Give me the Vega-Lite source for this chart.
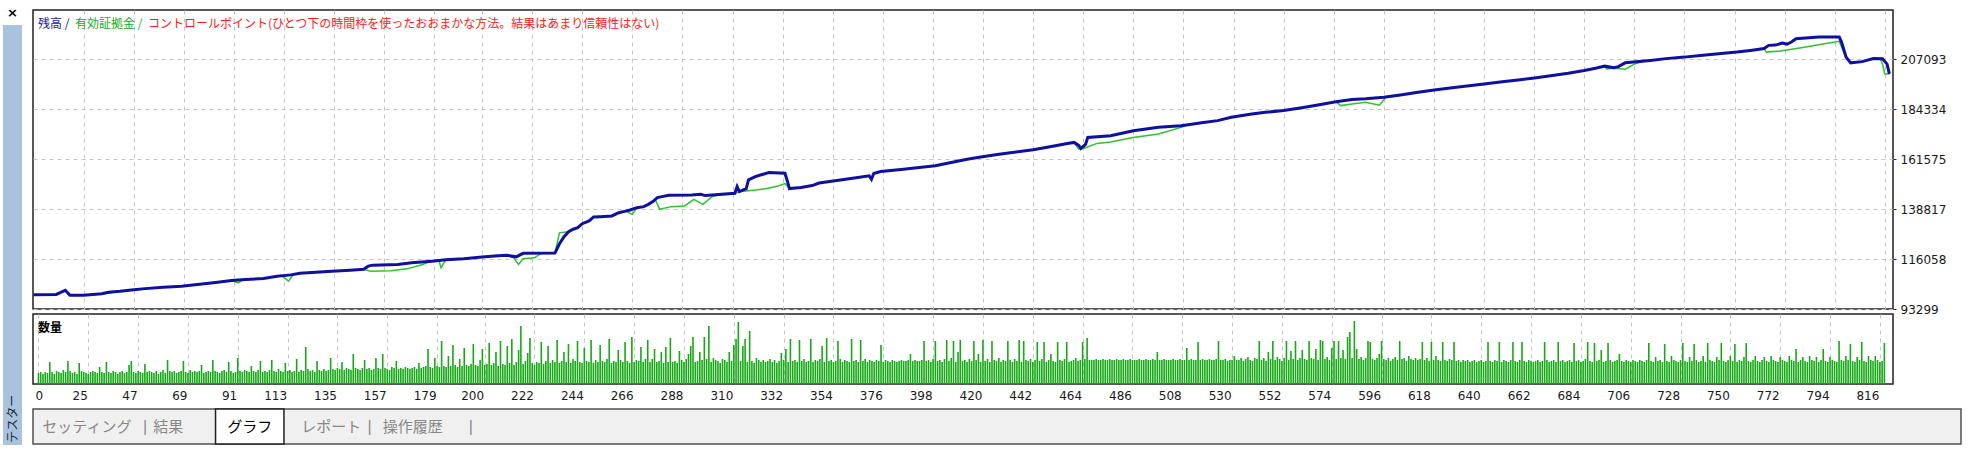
{
"$schema":"https://vega.github.io/schema/vega-lite/v6.json",
"background":"#ffffff",
"padding":{"left":3,"top":7,"right":0,"bottom":0},
"spacing":10,
"config":{
"view":{"stroke":"#202020","strokeWidth":1.5},
"axis":{"labelFont":"DejaVu Sans","labelFontSize":12,"labelColor":"#1a1a1a","gridColor":"#c4c4c4","gridDash":[4,4],"gridWidth":1,"title":null}
},
"datasets":{
"bal":[{"t":3,"v":99841},{"t":13,"v":99932},{"t":15,"v":100847},{"t":17,"v":101854},{"t":19,"v":99566},{"t":25,"v":99566},{"t":33,"v":100298},{"t":36,"v":100939},{"t":41,"v":101396},{"t":46,"v":101991},{"t":52,"v":102585},{"t":60,"v":103226},{"t":68,"v":103683},{"t":75,"v":104415},{"t":83,"v":105330},{"t":90,"v":106245},{"t":96,"v":106703},{"t":104,"v":107160},{"t":110,"v":108258},{"t":116,"v":108853},{"t":120,"v":109630},{"t":127,"v":110088},{"t":134,"v":110545},{"t":142,"v":111003},{"t":148,"v":111460},{"t":150,"v":112833},{"t":152,"v":113290},{"t":163,"v":113564},{"t":169,"v":114342},{"t":178,"v":115120},{"t":184,"v":115715},{"t":192,"v":116172},{"t":200,"v":116950},{"t":207,"v":117544},{"t":211,"v":117773},{"t":215,"v":117087},{"t":218,"v":118688},{"t":232,"v":118779},{"t":234,"v":123034},{"t":236,"v":126236},{"t":238,"v":128523},{"t":240,"v":129667},{"t":242,"v":130353},{"t":244,"v":132183},{"t":247,"v":133418},{"t":249,"v":135248},{"t":252,"v":135385},{"t":257,"v":135706},{"t":260,"v":137215},{"t":263,"v":137901},{"t":265,"v":138450},{"t":268,"v":139502},{"t":271,"v":139960},{"t":273,"v":141012},{"t":275,"v":142247},{"t":277,"v":144077},{"t":279,"v":144535},{"t":282,"v":145129},{"t":292,"v":145312},{"t":296,"v":145587},{"t":298,"v":144992},{"t":301,"v":145312},{"t":311,"v":146044},{"t":312,"v":149109},{"t":313,"v":146822},{"t":316,"v":148194},{"t":317,"v":152174},{"t":320,"v":153684},{"t":323,"v":154599},{"t":326,"v":155514},{"t":333,"v":155193},{"t":334,"v":151854},{"t":335,"v":148194},{"t":340,"v":148652},{"t":345,"v":149567},{"t":348,"v":150710},{"t":355,"v":151717},{"t":362,"v":152769},{"t":370,"v":154004},{"t":371,"v":152449},{"t":372,"v":155056},{"t":375,"v":155971},{"t":384,"v":156886},{"t":399,"v":158579},{"t":406,"v":160088},{"t":413,"v":161598},{"t":419,"v":162604},{"t":427,"v":163885},{"t":442,"v":165898},{"t":450,"v":167408},{"t":457,"v":168780},{"t":460,"v":169237},{"t":462,"v":167865},{"t":463,"v":166493},{"t":465,"v":168322},{"t":466,"v":171525},{"t":476,"v":172302},{"t":486,"v":174590},{"t":497,"v":176099},{"t":507,"v":176877},{"t":516,"v":178158},{"t":523,"v":179164},{"t":529,"v":180674},{"t":538,"v":182184},{"t":544,"v":182961},{"t":552,"v":183739},{"t":560,"v":185020},{"t":567,"v":186300},{"t":575,"v":187765},{"t":582,"v":188771},{"t":588,"v":189137},{"t":596,"v":189823},{"t":604,"v":190967},{"t":611,"v":192110},{"t":619,"v":193254},{"t":626,"v":194169},{"t":640,"v":195907},{"t":648,"v":196914},{"t":655,"v":197737},{"t":663,"v":198744},{"t":670,"v":199750},{"t":677,"v":200802},{"t":684,"v":202037},{"t":689,"v":203089},{"t":693,"v":204004},{"t":697,"v":203318},{"t":699,"v":203776},{"t":702,"v":205514},{"t":713,"v":206612},{"t":720,"v":207435},{"t":728,"v":208121},{"t":735,"v":208899},{"t":743,"v":209631},{"t":751,"v":210409},{"t":757,"v":211187},{"t":763,"v":212010},{"t":765,"v":213474},{"t":768,"v":213611},{"t":771,"v":214526},{"t":773,"v":214068},{"t":775,"v":214983},{"t":777,"v":216493},{"t":787,"v":217271},{"t":796,"v":217271},{"t":797,"v":214983},{"t":799,"v":208121},{"t":801,"v":205514},{"t":806,"v":206063},{"t":811,"v":207435},{"t":815,"v":207344},{"t":817,"v":204919},{"t":818,"v":200482}],
"eq":[{"t":3,"v":99841},{"t":13,"v":99932},{"t":15,"v":100847},{"t":17,"v":101854},{"t":19,"v":99566},{"t":25,"v":99566},{"t":33,"v":100298},{"t":36,"v":100500},{"t":38,"v":100939},{"t":41,"v":101396},{"t":46,"v":101991},{"t":52,"v":102585},{"t":60,"v":103226},{"t":68,"v":103683},{"t":75,"v":104415},{"t":83,"v":105330},{"t":90,"v":106245},{"t":93,"v":105193},{"t":95,"v":106600},{"t":104,"v":107160},{"t":110,"v":108258},{"t":112,"v":108500},{"t":115,"v":105971},{"t":117,"v":108900},{"t":120,"v":109630},{"t":127,"v":110088},{"t":134,"v":110545},{"t":142,"v":111003},{"t":148,"v":111460},{"t":151,"v":110545},{"t":160,"v":110682},{"t":167,"v":111597},{"t":174,"v":113564},{"t":177,"v":114950},{"t":178,"v":115120},{"t":181,"v":115600},{"t":182,"v":112055},{"t":184,"v":115715},{"t":192,"v":116172},{"t":200,"v":116950},{"t":207,"v":117544},{"t":211,"v":117773},{"t":214,"v":116500},{"t":216,"v":113564},{"t":218,"v":116200},{"t":223,"v":116629},{"t":226,"v":118700},{"t":232,"v":118779},{"t":234,"v":128000},{"t":236,"v":128300},{"t":238,"v":128523},{"t":240,"v":129667},{"t":242,"v":130353},{"t":244,"v":132183},{"t":247,"v":133418},{"t":249,"v":135248},{"t":252,"v":135385},{"t":257,"v":135706},{"t":260,"v":137215},{"t":263,"v":137901},{"t":266,"v":136437},{"t":268,"v":139502},{"t":271,"v":139960},{"t":273,"v":141012},{"t":275,"v":142247},{"t":276,"v":143300},{"t":278,"v":138725},{"t":283,"v":139960},{"t":289,"v":140280},{"t":293,"v":143299},{"t":297,"v":141012},{"t":301,"v":144500},{"t":304,"v":145400},{"t":311,"v":146044},{"t":313,"v":146822},{"t":316,"v":147142},{"t":320,"v":147508},{"t":325,"v":148194},{"t":330,"v":149338},{"t":333,"v":150482},{"t":335,"v":148194},{"t":340,"v":148652},{"t":345,"v":149567},{"t":348,"v":150710},{"t":355,"v":151717},{"t":362,"v":152769},{"t":370,"v":154004},{"t":371,"v":152449},{"t":372,"v":155056},{"t":375,"v":155971},{"t":384,"v":156886},{"t":399,"v":158579},{"t":406,"v":160088},{"t":413,"v":161598},{"t":419,"v":162604},{"t":427,"v":163885},{"t":442,"v":165898},{"t":450,"v":167408},{"t":457,"v":168780},{"t":460,"v":169237},{"t":462,"v":166173},{"t":465,"v":166800},{"t":470,"v":168780},{"t":476,"v":169466},{"t":486,"v":171525},{"t":497,"v":173033},{"t":507,"v":176099},{"t":510,"v":177300},{"t":516,"v":178158},{"t":523,"v":179164},{"t":529,"v":180674},{"t":538,"v":182184},{"t":544,"v":182961},{"t":552,"v":183739},{"t":560,"v":185020},{"t":567,"v":186300},{"t":575,"v":187765},{"t":577,"v":186026},{"t":582,"v":186758},{"t":588,"v":187536},{"t":594,"v":186163},{"t":597,"v":189900},{"t":604,"v":190967},{"t":611,"v":192110},{"t":619,"v":193254},{"t":626,"v":194169},{"t":640,"v":195907},{"t":648,"v":196914},{"t":655,"v":197737},{"t":663,"v":198744},{"t":670,"v":199750},{"t":677,"v":200802},{"t":684,"v":202037},{"t":689,"v":203089},{"t":693,"v":203600},{"t":694,"v":202770},{"t":697,"v":203000},{"t":702,"v":202632},{"t":706,"v":204919},{"t":710,"v":206200},{"t":713,"v":206612},{"t":720,"v":207435},{"t":728,"v":208121},{"t":735,"v":208899},{"t":743,"v":209631},{"t":751,"v":210409},{"t":757,"v":211187},{"t":763,"v":212010},{"t":764,"v":210409},{"t":770,"v":210866},{"t":780,"v":212467},{"t":790,"v":214297},{"t":796,"v":215304},{"t":797,"v":212696},{"t":799,"v":207664},{"t":801,"v":205834},{"t":806,"v":206063},{"t":811,"v":207435},{"t":814,"v":207344},{"t":815,"v":204919},{"t":816,"v":200482},{"t":818,"v":200482}],
"vol":[{"t":3,"v":1.1},{"t":4,"v":1.2},{"t":5,"v":1},{"t":6,"v":1.2},{"t":7,"v":1.1},{"t":8,"v":2.2},{"t":9,"v":1.2},{"t":10,"v":1},{"t":11,"v":1.3},{"t":12,"v":1.2},
{"t":13,"v":1.1},{"t":14,"v":1.4},{"t":15,"v":1.2},{"t":16,"v":2.3},{"t":17,"v":1.3},{"t":18,"v":1.1},{"t":19,"v":1.2},{"t":20,"v":1},{"t":21,"v":2.1},{"t":22,"v":1.3},
{"t":23,"v":1.2},{"t":24,"v":1.1},{"t":25,"v":1},{"t":26,"v":1.2},{"t":27,"v":1.3},{"t":28,"v":1.2},{"t":29,"v":1.1},{"t":30,"v":1.7},{"t":31,"v":1.2},{"t":32,"v":1.1},
{"t":33,"v":2.2},{"t":34,"v":1.2},{"t":35,"v":1.1},{"t":36,"v":1.3},{"t":37,"v":1.2},{"t":38,"v":1},{"t":39,"v":1.2},{"t":40,"v":1.3},{"t":41,"v":1.1},{"t":42,"v":1.2},
{"t":43,"v":1.9},{"t":44,"v":2.3},{"t":45,"v":1.2},{"t":46,"v":1.1},{"t":47,"v":1.3},{"t":48,"v":1.2},{"t":49,"v":1.1},{"t":50,"v":2},{"t":51,"v":1.2},{"t":52,"v":1.3},
{"t":53,"v":1.2},{"t":54,"v":1.1},{"t":55,"v":1.3},{"t":56,"v":1},{"t":57,"v":1.2},{"t":58,"v":1.4},{"t":59,"v":1.1},{"t":60,"v":2.4},{"t":61,"v":1.3},{"t":62,"v":1.2},
{"t":63,"v":1.3},{"t":64,"v":1.1},{"t":65,"v":1.2},{"t":66,"v":1.3},{"t":67,"v":2.3},{"t":68,"v":1.2},{"t":69,"v":1.1},{"t":70,"v":1.4},{"t":71,"v":1.2},{"t":72,"v":1.3},
{"t":73,"v":1.2},{"t":74,"v":1.3},{"t":75,"v":1.9},{"t":76,"v":1.1},{"t":77,"v":1.2},{"t":78,"v":1.3},{"t":79,"v":1.2},{"t":80,"v":2.4},{"t":81,"v":1.3},{"t":82,"v":1.2},
{"t":83,"v":1.1},{"t":84,"v":1.3},{"t":85,"v":1.4},{"t":86,"v":1.2},{"t":87,"v":2.2},{"t":88,"v":1.3},{"t":89,"v":1.1},{"t":90,"v":1.2},{"t":91,"v":2.6},{"t":92,"v":1.3},
{"t":93,"v":1.2},{"t":94,"v":1.4},{"t":95,"v":1.3},{"t":96,"v":1.2},{"t":97,"v":1.8},{"t":98,"v":1.3},{"t":99,"v":1.2},{"t":100,"v":1.4},{"t":101,"v":2.3},{"t":102,"v":1.2},
{"t":103,"v":1.3},{"t":104,"v":1.2},{"t":105,"v":1.4},{"t":106,"v":2.4},{"t":107,"v":1.3},{"t":108,"v":1.2},{"t":109,"v":1.5},{"t":110,"v":1.3},{"t":111,"v":1.2},{"t":112,"v":2.1},
{"t":113,"v":1.3},{"t":114,"v":1.4},{"t":115,"v":1.2},{"t":116,"v":1.3},{"t":117,"v":2.5},{"t":118,"v":1.2},{"t":119,"v":1.4},{"t":120,"v":1.3},{"t":121,"v":3.7},{"t":122,"v":1.5},
{"t":123,"v":1.3},{"t":124,"v":1.4},{"t":125,"v":1.2},{"t":126,"v":2.3},{"t":127,"v":1.4},{"t":128,"v":1.3},{"t":129,"v":1.5},{"t":130,"v":1.3},{"t":131,"v":1.4},{"t":132,"v":2.6},
{"t":133,"v":1.5},{"t":134,"v":1.4},{"t":135,"v":1.6},{"t":136,"v":1.5},{"t":137,"v":2.2},{"t":138,"v":1.4},{"t":139,"v":1.6},{"t":140,"v":1.5},{"t":141,"v":1.4},{"t":142,"v":3},
{"t":143,"v":1.6},{"t":144,"v":1.5},{"t":145,"v":1.4},{"t":146,"v":1.6},{"t":147,"v":2.4},{"t":148,"v":1.5},{"t":149,"v":1.6},{"t":150,"v":1.4},{"t":151,"v":1.5},{"t":152,"v":2.6},
{"t":153,"v":1.6},{"t":154,"v":1.5},{"t":155,"v":3},{"t":156,"v":1.6},{"t":157,"v":1.5},{"t":158,"v":1.4},{"t":159,"v":1.7},{"t":160,"v":1.6},{"t":161,"v":2.3},{"t":162,"v":1.5},
{"t":163,"v":1.6},{"t":164,"v":1.5},{"t":165,"v":1.7},{"t":166,"v":1.6},{"t":167,"v":1.5},{"t":168,"v":1.6},{"t":169,"v":1.7},{"t":170,"v":1.5},{"t":171,"v":2.1},{"t":172,"v":1.6},
{"t":173,"v":1.7},{"t":174,"v":1.8},{"t":175,"v":3.5},{"t":176,"v":1.7},{"t":177,"v":1.6},{"t":178,"v":2.6},{"t":179,"v":1.8},{"t":180,"v":1.7},{"t":181,"v":4.3},{"t":182,"v":1.8},
{"t":183,"v":1.7},{"t":184,"v":2.8},{"t":185,"v":1.8},{"t":186,"v":3.9},{"t":187,"v":1.9},{"t":188,"v":1.7},{"t":189,"v":2.5},{"t":190,"v":1.8},{"t":191,"v":3.6},{"t":192,"v":1.9},
{"t":193,"v":1.8},{"t":194,"v":2},{"t":195,"v":4},{"t":196,"v":1.9},{"t":197,"v":1.8},{"t":198,"v":2.4},{"t":199,"v":3.5},{"t":200,"v":1.9},{"t":201,"v":2},{"t":202,"v":4.1},
{"t":203,"v":1.9},{"t":204,"v":2.1},{"t":205,"v":3.2},{"t":206,"v":1.8},{"t":207,"v":4.3},{"t":208,"v":2},{"t":209,"v":1.9},{"t":210,"v":3.8},{"t":211,"v":2.1},{"t":212,"v":4.5},
{"t":213,"v":1.9},{"t":214,"v":2.2},{"t":215,"v":3.4},{"t":216,"v":5.8},{"t":217,"v":2},{"t":218,"v":2.3},{"t":219,"v":3.1},{"t":220,"v":4.6},{"t":221,"v":2.1},{"t":222,"v":1.9},
{"t":223,"v":2.2},{"t":224,"v":2.1},{"t":225,"v":4.2},{"t":226,"v":2},{"t":227,"v":2.3},{"t":228,"v":3.8},{"t":229,"v":2.1},{"t":230,"v":2.4},{"t":231,"v":2.2},{"t":232,"v":4.4},
{"t":233,"v":2.1},{"t":234,"v":2.3},{"t":235,"v":3.2},{"t":236,"v":2.2},{"t":237,"v":4},{"t":238,"v":2.1},{"t":239,"v":2.5},{"t":240,"v":2.3},{"t":241,"v":4.3},{"t":242,"v":2.2},
{"t":243,"v":2.1},{"t":244,"v":3.6},{"t":245,"v":2.3},{"t":246,"v":2.2},{"t":247,"v":4.4},{"t":248,"v":2.1},{"t":249,"v":2.4},{"t":250,"v":2.2},{"t":251,"v":3.9},{"t":252,"v":2.3},
{"t":253,"v":2.2},{"t":254,"v":2.5},{"t":255,"v":4.5},{"t":256,"v":2.1},{"t":257,"v":2.3},{"t":258,"v":2.2},{"t":259,"v":3.4},{"t":260,"v":2.4},{"t":261,"v":2.2},{"t":262,"v":4.2},
{"t":263,"v":2.3},{"t":264,"v":2.1},{"t":265,"v":4.7},{"t":266,"v":2.2},{"t":267,"v":2.4},{"t":268,"v":2.3},{"t":269,"v":3.7},{"t":270,"v":2.2},{"t":271,"v":2.5},{"t":272,"v":4.4},
{"t":273,"v":2.2},{"t":274,"v":2.5},{"t":275,"v":3.5},{"t":276,"v":2.2},{"t":277,"v":2.3},{"t":278,"v":3.2},{"t":279,"v":2.1},{"t":280,"v":3.7},{"t":281,"v":2.2},{"t":282,"v":4.6},
{"t":283,"v":2.2},{"t":284,"v":2.3},{"t":285,"v":2.1},{"t":286,"v":3.3},{"t":287,"v":2.4},{"t":288,"v":2.2},{"t":289,"v":2.5},{"t":290,"v":3},{"t":291,"v":3.8},{"t":292,"v":4.7},
{"t":293,"v":2.2},{"t":294,"v":2.3},{"t":295,"v":3.2},{"t":296,"v":2.4},{"t":297,"v":4.7},{"t":298,"v":2.5},{"t":299,"v":5.8},{"t":300,"v":2.2},{"t":301,"v":2.6},{"t":302,"v":2.4},
{"t":303,"v":2.3},{"t":304,"v":2.1},{"t":305,"v":2.5},{"t":306,"v":2.4},{"t":307,"v":2.2},{"t":308,"v":3.2},{"t":309,"v":2.3},{"t":310,"v":3.9},{"t":311,"v":4.5},{"t":312,"v":6.2},
{"t":313,"v":2.3},{"t":314,"v":3.8},{"t":315,"v":4.5},{"t":316,"v":2.2},{"t":317,"v":5.3},{"t":318,"v":2.3},{"t":319,"v":2.1},{"t":320,"v":2.6},{"t":321,"v":2.4},{"t":322,"v":2.2},
{"t":323,"v":2.4},{"t":324,"v":2.2},{"t":325,"v":2.3},{"t":326,"v":2.5},{"t":327,"v":2.2},{"t":328,"v":2.4},{"t":329,"v":2.1},{"t":330,"v":2.3},{"t":331,"v":3.1},{"t":332,"v":2.4},
{"t":333,"v":3.5},{"t":334,"v":2.2},{"t":335,"v":4.5},{"t":336,"v":2.3},{"t":337,"v":2.4},{"t":338,"v":2.2},{"t":339,"v":4.4},{"t":340,"v":2.3},{"t":341,"v":2.5},{"t":342,"v":2.2},
{"t":343,"v":2.3},{"t":344,"v":4.5},{"t":345,"v":2.2},{"t":346,"v":2.4},{"t":347,"v":2.3},{"t":348,"v":2.5},{"t":349,"v":3.8},{"t":350,"v":2.2},{"t":351,"v":4.6},{"t":352,"v":2.3},
{"t":353,"v":2.4},{"t":354,"v":2.2},{"t":355,"v":2.3},{"t":356,"v":4.3},{"t":357,"v":2.5},{"t":358,"v":2.2},{"t":359,"v":2.4},{"t":360,"v":2.3},{"t":361,"v":2.2},{"t":362,"v":4.5},
{"t":363,"v":2.3},{"t":364,"v":2.4},{"t":365,"v":2.2},{"t":366,"v":4.4},{"t":367,"v":2.3},{"t":368,"v":2.5},{"t":369,"v":2.2},{"t":370,"v":2.4},{"t":371,"v":2.3},{"t":372,"v":2.2},
{"t":373,"v":2.4},{"t":374,"v":2.3},{"t":375,"v":3.9},{"t":376,"v":2.2},{"t":377,"v":2.4},{"t":378,"v":2.3},{"t":379,"v":2.2},{"t":380,"v":2.4},{"t":381,"v":2.3},{"t":382,"v":2.2},
{"t":383,"v":2.3},{"t":384,"v":2.4},{"t":385,"v":2.3},{"t":386,"v":2.3},{"t":387,"v":2.4},{"t":388,"v":3},{"t":389,"v":2.3},{"t":390,"v":2.4},{"t":391,"v":2.3},{"t":392,"v":2.3},
{"t":393,"v":2.4},{"t":394,"v":4.3},{"t":395,"v":2.3},{"t":396,"v":2.4},{"t":397,"v":2.2},{"t":398,"v":2.5},{"t":399,"v":4.3},{"t":400,"v":2.3},{"t":401,"v":2.4},{"t":402,"v":2.2},
{"t":403,"v":2.5},{"t":404,"v":4.4},{"t":405,"v":2.3},{"t":406,"v":2.6},{"t":407,"v":4.3},{"t":408,"v":2.2},{"t":409,"v":3.2},{"t":410,"v":4.4},{"t":411,"v":2.3},{"t":412,"v":2.4},
{"t":413,"v":2.2},{"t":414,"v":2.5},{"t":415,"v":2.3},{"t":416,"v":4.3},{"t":417,"v":2.4},{"t":418,"v":3},{"t":419,"v":2.2},{"t":420,"v":4.4},{"t":421,"v":2.3},{"t":422,"v":2.5},
{"t":423,"v":2.2},{"t":424,"v":4.3},{"t":425,"v":2.4},{"t":426,"v":2.3},{"t":427,"v":2.6},{"t":428,"v":2.2},{"t":429,"v":2.4},{"t":430,"v":2.3},{"t":431,"v":4.3},{"t":432,"v":2.4},
{"t":433,"v":2.2},{"t":434,"v":2.5},{"t":435,"v":2.3},{"t":436,"v":4.4},{"t":437,"v":2.2},{"t":438,"v":4.3},{"t":439,"v":2.4},{"t":440,"v":2.3},{"t":441,"v":2.5},{"t":442,"v":2.2},
{"t":443,"v":2.4},{"t":444,"v":4.2},{"t":445,"v":2.3},{"t":446,"v":2.5},{"t":447,"v":4.2},{"t":448,"v":2.2},{"t":449,"v":2.4},{"t":450,"v":3},{"t":451,"v":2.3},{"t":452,"v":2.2},
{"t":453,"v":4.2},{"t":454,"v":2.4},{"t":455,"v":2.3},{"t":456,"v":2.5},{"t":457,"v":4.2},{"t":458,"v":2.2},{"t":459,"v":2.3},{"t":460,"v":2.4},{"t":461,"v":2.6},{"t":462,"v":2.3},
{"t":463,"v":2.4},{"t":464,"v":4.2},{"t":465,"v":2.5},{"t":466,"v":4.6},{"t":467,"v":2.4},{"t":468,"v":2.4},{"t":469,"v":2.4},{"t":470,"v":2.5},{"t":471,"v":2.4},{"t":472,"v":2.4},
{"t":473,"v":2.5},{"t":474,"v":2.4},{"t":475,"v":2.4},{"t":476,"v":2.5},{"t":477,"v":2.4},{"t":478,"v":2.4},{"t":479,"v":2.5},{"t":480,"v":2.4},{"t":481,"v":2.4},{"t":482,"v":2.5},
{"t":483,"v":2.4},{"t":484,"v":2.4},{"t":485,"v":2.5},{"t":486,"v":2.4},{"t":487,"v":2.4},{"t":488,"v":2.4},{"t":489,"v":2.5},{"t":490,"v":2.4},{"t":491,"v":2.4},{"t":492,"v":2.5},
{"t":493,"v":2.4},{"t":494,"v":2.4},{"t":495,"v":2.5},{"t":496,"v":2.4},{"t":497,"v":3.2},{"t":498,"v":2.4},{"t":499,"v":2.4},{"t":500,"v":2.5},{"t":501,"v":2.4},{"t":502,"v":2.4},
{"t":503,"v":2.4},{"t":504,"v":2.5},{"t":505,"v":2.4},{"t":506,"v":2.4},{"t":507,"v":2.5},{"t":508,"v":2.4},{"t":509,"v":2.4},{"t":510,"v":3.6},{"t":511,"v":2.4},{"t":512,"v":2.5},
{"t":513,"v":2.4},{"t":514,"v":2.4},{"t":515,"v":4.2},{"t":516,"v":2.4},{"t":517,"v":2.5},{"t":518,"v":2.4},{"t":519,"v":2.4},{"t":520,"v":2.5},{"t":521,"v":2.4},{"t":522,"v":2.4},
{"t":523,"v":2.5},{"t":524,"v":4.3},{"t":525,"v":2.4},{"t":526,"v":2.4},{"t":527,"v":2.5},{"t":528,"v":2.3},{"t":529,"v":2.4},{"t":530,"v":2.4},{"t":531,"v":2.8},{"t":532,"v":2.4},
{"t":533,"v":2.4},{"t":534,"v":2.6},{"t":535,"v":2.3},{"t":536,"v":2.5},{"t":537,"v":2.7},{"t":538,"v":2.4},{"t":539,"v":2.3},{"t":540,"v":2.6},{"t":541,"v":2.5},{"t":542,"v":4.3},
{"t":543,"v":2.4},{"t":544,"v":2.6},{"t":545,"v":2.3},{"t":546,"v":3.2},{"t":547,"v":2.5},{"t":548,"v":4.3},{"t":549,"v":2.4},{"t":550,"v":2.7},{"t":551,"v":2.5},{"t":552,"v":2.3},
{"t":553,"v":2.6},{"t":554,"v":4.3},{"t":555,"v":2.4},{"t":556,"v":3.3},{"t":557,"v":2.5},{"t":558,"v":4.3},{"t":559,"v":2.4},{"t":560,"v":2.6},{"t":561,"v":3.4},{"t":562,"v":2.5},
{"t":563,"v":2.4},{"t":564,"v":4.3},{"t":565,"v":2.6},{"t":566,"v":2.5},{"t":567,"v":3.5},{"t":568,"v":2.4},{"t":569,"v":4.4},{"t":570,"v":4.3},{"t":571,"v":2.5},{"t":572,"v":2.7},
{"t":573,"v":2.4},{"t":574,"v":3.6},{"t":575,"v":4.3},{"t":576,"v":2.5},{"t":577,"v":4.3},{"t":578,"v":2.6},{"t":579,"v":3.4},{"t":580,"v":2.5},{"t":581,"v":4.7},{"t":582,"v":5.2},
{"t":583,"v":2.6},{"t":584,"v":6.3},{"t":585,"v":3.5},{"t":586,"v":2.5},{"t":587,"v":2.7},{"t":588,"v":2.4},{"t":589,"v":2.6},{"t":590,"v":4.3},{"t":591,"v":4.2},{"t":592,"v":2.5},
{"t":593,"v":2.4},{"t":594,"v":2.6},{"t":595,"v":3},{"t":596,"v":4.3},{"t":597,"v":2.5},{"t":598,"v":2.4},{"t":599,"v":2.6},{"t":600,"v":2.3},{"t":601,"v":2.5},{"t":602,"v":2.7},
{"t":603,"v":2.4},{"t":604,"v":4.3},{"t":605,"v":2.5},{"t":606,"v":2.6},{"t":607,"v":2.3},{"t":608,"v":2.8},{"t":609,"v":2.5},{"t":610,"v":2.4},{"t":611,"v":2.6},{"t":612,"v":2.4},
{"t":613,"v":2.5},{"t":614,"v":4.2},{"t":615,"v":2.4},{"t":616,"v":2.6},{"t":617,"v":2.3},{"t":618,"v":4.2},{"t":619,"v":2.4},{"t":620,"v":2.8},{"t":621,"v":2.4},{"t":622,"v":2.3},
{"t":623,"v":4.2},{"t":624,"v":2.4},{"t":625,"v":2.3},{"t":626,"v":2.5},{"t":627,"v":2.4},{"t":628,"v":4.2},{"t":629,"v":2.3},{"t":630,"v":2.4},{"t":631,"v":2.2},{"t":632,"v":2.4},
{"t":633,"v":2.3},{"t":634,"v":2.4},{"t":635,"v":2.2},{"t":636,"v":2.3},{"t":637,"v":2.4},{"t":638,"v":2.2},{"t":639,"v":2.3},{"t":640,"v":2.4},{"t":641,"v":2.2},{"t":642,"v":2.3},
{"t":643,"v":4.2},{"t":644,"v":2.3},{"t":645,"v":2.2},{"t":646,"v":2.4},{"t":647,"v":2.3},{"t":648,"v":4.2},{"t":649,"v":2.2},{"t":650,"v":2.4},{"t":651,"v":2.3},{"t":652,"v":2.2},
{"t":653,"v":2.4},{"t":654,"v":4.2},{"t":655,"v":2.3},{"t":656,"v":2.2},{"t":657,"v":2.4},{"t":658,"v":4.2},{"t":659,"v":2.3},{"t":660,"v":2.2},{"t":661,"v":2.4},{"t":662,"v":2.3},
{"t":663,"v":2.2},{"t":664,"v":2.3},{"t":665,"v":2.4},{"t":666,"v":2.2},{"t":667,"v":2.3},{"t":668,"v":4.2},{"t":669,"v":2.4},{"t":670,"v":2.2},{"t":671,"v":2.3},{"t":672,"v":2.4},
{"t":673,"v":2.2},{"t":674,"v":4.2},{"t":675,"v":2.3},{"t":676,"v":2.4},{"t":677,"v":2.2},{"t":678,"v":2.3},{"t":679,"v":2.4},{"t":680,"v":2.2},{"t":681,"v":4.1},{"t":682,"v":2.3},
{"t":683,"v":2.4},{"t":684,"v":2.2},{"t":685,"v":2.3},{"t":686,"v":2.5},{"t":687,"v":4.2},{"t":688,"v":2.3},{"t":689,"v":2.2},{"t":690,"v":4.1},{"t":691,"v":2.3},{"t":692,"v":2.4},
{"t":693,"v":3.4},{"t":694,"v":2.2},{"t":695,"v":2.3},{"t":696,"v":4.1},{"t":697,"v":2.4},{"t":698,"v":2.2},{"t":699,"v":2.3},{"t":700,"v":2.4},{"t":701,"v":3},{"t":702,"v":2.3},
{"t":703,"v":2.2},{"t":704,"v":2.4},{"t":705,"v":2.3},{"t":706,"v":2.2},{"t":707,"v":2.4},{"t":708,"v":2.3},{"t":709,"v":2.2},{"t":710,"v":2.4},{"t":711,"v":2.3},{"t":712,"v":2.2},
{"t":713,"v":2.4},{"t":714,"v":4.1},{"t":715,"v":2.3},{"t":716,"v":2.2},{"t":717,"v":2.7},{"t":718,"v":2.3},{"t":719,"v":2.4},{"t":720,"v":2.2},{"t":721,"v":4},{"t":722,"v":2.3},
{"t":723,"v":2.2},{"t":724,"v":2.8},{"t":725,"v":2.4},{"t":726,"v":2.3},{"t":727,"v":2.2},{"t":728,"v":2.4},{"t":729,"v":4.1},{"t":730,"v":2.3},{"t":731,"v":2.2},{"t":732,"v":2.7},
{"t":733,"v":2.3},{"t":734,"v":4},{"t":735,"v":2.4},{"t":736,"v":2.2},{"t":737,"v":2.3},{"t":738,"v":2.8},{"t":739,"v":2.2},{"t":740,"v":4.1},{"t":741,"v":2.4},{"t":742,"v":2.3},
{"t":743,"v":2.2},{"t":744,"v":2.7},{"t":745,"v":2.4},{"t":746,"v":4.1},{"t":747,"v":2.3},{"t":748,"v":2.2},{"t":749,"v":2.4},{"t":750,"v":2.8},{"t":751,"v":2.3},{"t":752,"v":4},
{"t":753,"v":2.2},{"t":754,"v":2.4},{"t":755,"v":2.3},{"t":756,"v":2.7},{"t":757,"v":4.1},{"t":758,"v":2.3},{"t":759,"v":2.2},{"t":760,"v":2.4},{"t":761,"v":2.8},{"t":762,"v":2.3},
{"t":763,"v":2.2},{"t":764,"v":2.4},{"t":765,"v":2.7},{"t":766,"v":2.3},{"t":767,"v":2.2},{"t":768,"v":2.8},{"t":769,"v":2.4},{"t":770,"v":2.3},{"t":771,"v":2.2},{"t":772,"v":2.7},
{"t":773,"v":2.4},{"t":774,"v":2.3},{"t":775,"v":2.2},{"t":776,"v":2.8},{"t":777,"v":2.4},{"t":778,"v":2.3},{"t":779,"v":3.5},{"t":780,"v":2.2},{"t":781,"v":2.4},{"t":782,"v":2.7},
{"t":783,"v":2.3},{"t":784,"v":2.2},{"t":785,"v":2.8},{"t":786,"v":2.4},{"t":787,"v":2.3},{"t":788,"v":2.7},{"t":789,"v":2.2},{"t":790,"v":2.4},{"t":791,"v":3.5},{"t":792,"v":2.3},
{"t":793,"v":2.2},{"t":794,"v":2.7},{"t":795,"v":2.4},{"t":796,"v":2.3},{"t":797,"v":2.2},{"t":798,"v":4.3},{"t":799,"v":2.4},{"t":800,"v":2.3},{"t":801,"v":2.8},{"t":802,"v":2.4},
{"t":803,"v":4},{"t":804,"v":2.3},{"t":805,"v":2.2},{"t":806,"v":2.7},{"t":807,"v":2.4},{"t":808,"v":4.2},{"t":809,"v":2.3},{"t":810,"v":2.2},{"t":811,"v":2.8},{"t":812,"v":2.4},
{"t":813,"v":2.3},{"t":814,"v":2.8},{"t":815,"v":2.4},{"t":816,"v":2.2},{"t":817,"v":2.3},{"t":818,"v":4.1}],
"tabs":[{"tab":"セッティング"},{"tab":"結果"},{"tab":"グラフ"},{"tab":"レポート"},{"tab":"操作履歴"}]
},
"resolve":{"scale":{"x":"independent","y":"independent","color":"independent"},"legend":{"color":"independent"}},
"hconcat":[
{
"width":19,"height":435,
"view":{"stroke":null},
"data":{"values":[{"name":"テスター","close":"×","lo":0,"hi":0.9655,"closePos":0.993,"labelPos":0.005}]},
"encoding":{},
"layer":[
{"mark":{"type":"rect","color":"#a9c3df"},"encoding":{"y":{"field":"lo","type":"quantitative","scale":{"domain":[0,1]},"axis":null},"y2":{"field":"hi"}}},
{"mark":{"type":"text","angle":270,"align":"left","baseline":"middle","font":"Noto Sans CJK JP","fontSize":12,"color":"#1a2a3a"},
"encoding":{"text":{"field":"name","type":"nominal"},"y":{"field":"labelPos","type":"quantitative","scale":{"domain":[0,1]},"axis":null}}},
{"mark":{"type":"text","align":"center","baseline":"middle","font":"DejaVu Sans","fontSize":13,"fontWeight":"bold","color":"#000000"},
"encoding":{"text":{"field":"close","type":"nominal"},"y":{"field":"closePos","type":"quantitative","scale":{"domain":[0,1]},"axis":null}}}
]
},
{
"spacing":5,
"resolve":{"scale":{"x":"independent","y":"independent","color":"independent"},"legend":{"color":"independent"}},
"vconcat":[
{
"spacing":5,
"bounds":"flush",
"resolve":{"scale":{"x":"independent","y":"independent","color":"independent"},"legend":{"color":"independent"}},
"vconcat":[
{
"width":1860,"height":299,
"encoding":{
"x":{"field":"t","type":"quantitative","scale":{"domain":[2.8,819.6],"nice":false,"zero":false},"axis":{"values":[25,47,69,91,113,135,157,179,200,222,244,266,288,310,332,354,376,398,420,442,464,486,508,530,552,574,596,618,640,662,684,706,728,750,772,794,816],"labels":false,"ticks":false,"domain":false,"grid":true}},
"y":{"field":"v","type":"quantitative","scale":{"domain":[93299,229600],"nice":false,"zero":false},"axis":{"orient":"right","values":[93299,116058,138817,161575,184334,207093],"format":"d","domain":false,"ticks":true,"tickSize":3,"tickColor":"#202020","labelPadding":4,"labelAlign":"left","labelBaseline":"middle","grid":true,"labelOverlap":false,"labelFlush":false}}
},
"layer":[
{"data":{"name":"eq"},"mark":{"type":"line","strokeWidth":1.5,"clip":true},
"encoding":{"color":{"datum":"有効証拠金","type":"nominal",
"scale":{"domain":["残高","有効証拠金","コントロールポイント(ひとつ下の時間枠を使ったおおまかな方法。結果はあまり信頼性はない)"],"range":["#0f0fa0","#30c030","#ff2020"]},
"legend":{"orient":"none","legendX":5,"legendY":8,"direction":"horizontal","title":null,"symbolType":"circle","symbolOpacity":0,"symbolSize":0,"symbolStrokeWidth":0,"labelOffset":-12,"columnPadding":5,"padding":0,"labelFont":"Noto Sans CJK JP","labelFontSize":12,"labelLimit":1500,
"labelExpr":"datum.value === '残高' || datum.value === '有効証拠金' ? datum.label + ' /' : datum.label",
"encode":{"labels":{"update":{"fill":{"signal":"datum.value === '残高' ? '#1a1aa0' : datum.value === '有効証拠金' ? '#20a820' : '#ff2020'"}}}}}}}},
{"data":{"name":"bal"},"mark":{"type":"line","strokeWidth":3,"clip":true},
"encoding":{"color":{"datum":"残高","type":"nominal"}}}
]
},
{
"width":1860,"height":70,
"data":{"name":"vol"},
"mark":{"type":"bar","size":1.6,"clip":true},
"encoding":{
"x":{"field":"t","type":"quantitative","scale":{"domain":[2.8,819.6],"nice":false,"zero":false},"axis":{"values":[2.8,25,47,69,91,113,135,157,179,200,222,244,266,288,310,332,354,376,398,420,442,464,486,508,530,552,574,596,618,640,662,684,706,728,750,772,794,816],"format":"d","labelExpr":"datum.value < 5 ? '0' : datum.label","labelAlign":{"condition":{"test":"datum.value < 5","value":"left"},"value":"right"},"labelOffset":{"condition":{"test":"datum.value < 5","value":-3},"value":-1},"labelPadding":6,"labelFlush":false,"labelOverlap":false,"ticks":false,"domain":false,"grid":true}},
"y":{"field":"v","type":"quantitative","scale":{"domain":[0,7],"nice":false},"axis":null},
"color":{"datum":"数量","type":"nominal","scale":{"range":["#16a816"]},
"legend":{"orient":"none","legendX":5,"legendY":8,"title":null,"symbolType":"circle","symbolOpacity":0,"symbolSize":0,"symbolStrokeWidth":0,"labelOffset":-12,"padding":0,"labelFont":"Noto Sans CJK JP","labelFontSize":12,"labelColor":"#000000","labelFontWeight":"bold"}}
}
}
]
},
{
"width":1928,"height":35,
"data":{"name":"tabs"},
"view":{"fill":"#f0f0f0","stroke":"#505050","strokeWidth":1.5},
"encoding":{"x":{"field":"tab","type":"nominal","sort":null,"scale":{"domain":["セッティング","結果","グラフ","レポート","操作履歴"],"range":[11.5,422],"paddingInner":0.16,"paddingOuter":0.1},"axis":null}},
"layer":[
{"transform":[{"filter":"datum.tab === 'グラフ'"}],"mark":{"type":"rect","fill":"#ffffff","stroke":"#202020","strokeWidth":1.5}},
{"mark":{"type":"text","font":"Noto Sans CJK JP","fontSize":15},"encoding":{"text":{"field":"tab","type":"nominal"},"color":{"condition":{"test":"datum.tab === 'グラフ'","value":"#000000"},"value":"#888888"}}},
{"transform":[{"filter":"datum.tab === 'セッティング' || datum.tab === '操作履歴'"}],"mark":{"type":"text","text":"|","fontSize":16,"color":"#8a8a8a"},"encoding":{"x":{"field":"tab","type":"nominal","sort":null,"bandPosition":1.35}}},
{"transform":[{"filter":"datum.tab === 'レポート'"}],"mark":{"type":"text","text":"|","fontSize":16,"color":"#8a8a8a"},"encoding":{"x":{"field":"tab","type":"nominal","sort":null,"bandPosition":1.06}}}
]
}
]
}
]
}
